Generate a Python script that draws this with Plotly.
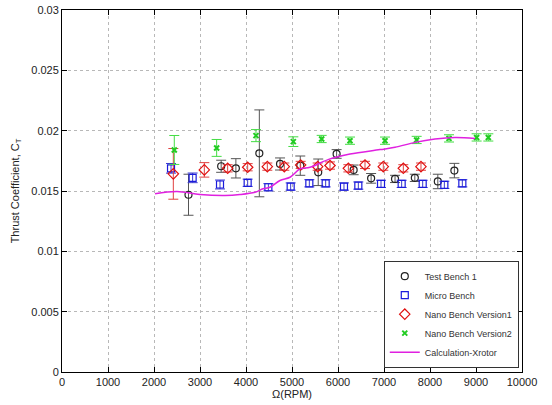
import plotly.graph_objects as go

# Test Bench 1
tb1_rpm = [2750, 3460, 3780, 4290, 4740, 5180, 5570, 5970, 6340, 6720, 7240, 7670, 8170, 8530]
tb1_ct = [0.01469, 0.01705, 0.01688, 0.01812, 0.01724, 0.01710, 0.01655, 0.01807, 0.01675, 0.01605, 0.01600, 0.01609, 0.01579, 0.01669]
tb1_err = [0.0017, 0.0005, 0.0008, 0.0036, 0.0005, 0.0008, 0.0011, 0.00036, 0.0004, 0.0004, 0.0003, 0.0003, 0.0006, 0.0006]

# Micro Bench
mb_rpm = [2370, 2840, 3435, 4036, 4486, 4971, 5377, 5732, 6130, 6442, 6935, 7384, 7841, 8312, 8703]
mb_ct = [0.01688, 0.01609, 0.01554, 0.01568, 0.01531, 0.01537, 0.01564, 0.01564, 0.01537, 0.01545, 0.01559, 0.01559, 0.01559, 0.01551, 0.01564]
mb_err = [0.0004, 0.0004, 0.00037, 0.0003, 0.0003, 0.0003, 0.0003, 0.0003, 0.0003, 0.0003, 0.0003, 0.0003, 0.0003, 0.0003, 0.0003]

# Nano Bench Version1
nb1_rpm = [2420, 3094, 3601, 4036, 4464, 4833, 5188, 5558, 5826, 6225, 6587, 6985, 7420, 7804]
nb1_ct = [0.01642, 0.01675, 0.01688, 0.01697, 0.01702, 0.01702, 0.01716, 0.01702, 0.01711, 0.01688, 0.01716, 0.01702, 0.01688, 0.01702]
nb1_err = [0.0021, 0.0006, 0.0003, 0.0003, 0.0003, 0.0003, 0.0003, 0.0003, 0.0003, 0.0003, 0.0003, 0.0003, 0.0003, 0.0003]

# Nano Bench Version2
nb2_rpm = [2441, 3362, 4217, 5029, 5645, 6261, 7022, 7710, 8413, 9014, 9268]
nb2_ct = [0.01840, 0.01857, 0.01959, 0.01909, 0.01931, 0.01917, 0.01917, 0.01923, 0.01936, 0.01944, 0.01944]
nb2_err = [0.0012, 0.0007, 0.0005, 0.0004, 0.0003, 0.0003, 0.0003, 0.0003, 0.0003, 0.0003, 0.0003]

# Calculation-Xrotor
xr_rpm = [2022, 2500, 3000, 3543, 3870, 4196, 4370, 4522, 4739, 4957, 5174, 5391, 5826, 6261, 6913, 7239, 7674, 8109, 8543, 8978]
xr_ct = [0.01477, 0.01495, 0.01471, 0.01463, 0.01471, 0.01490, 0.01518, 0.01531, 0.01587, 0.01614, 0.01683, 0.01697, 0.01766, 0.01807, 0.01843, 0.01862, 0.01903, 0.01931, 0.01944, 0.01936]

FONT = "Liberation Sans, Arial, sans-serif"

fig = go.Figure()

def add_pts(x, y, e, name, color, ecolor, symbol, size, width=1):
    fig.add_trace(go.Scatter(
        x=x, y=y, mode="markers", name=name,
        marker=dict(symbol=symbol, size=size, color=color, line=dict(color=color, width=width)),
        error_y=dict(type="data", array=e, visible=True, color=ecolor, thickness=1, width=5),
    ))

add_pts(tb1_rpm, tb1_ct, tb1_err, "Test Bench 1", "#222222", "#555555", "circle-open", 7, 1.2)
add_pts(mb_rpm, mb_ct, mb_err, "Micro Bench", "#1a1adc", "#3a3ad0", "square-open", 7, 1.2)
add_pts(nb1_rpm, nb1_ct, nb1_err, "Nano Bench Version1", "#e01010", "#e04040", "diamond-open", 8, 1.2)
add_pts(nb2_rpm, nb2_ct, nb2_err, "Nano Bench Version2", "#22cc22", "#44dd44", "x-thin-open", 5, 2)

fig.add_trace(go.Scatter(
    x=xr_rpm, y=xr_ct, mode="lines", name="Calculation-Xrotor",
    line=dict(color="#e020e0", width=1.5, shape="spline", smoothing=1.0),
))

axis_common = dict(
    showline=True, linecolor="black", linewidth=1, mirror="allticks",
    ticks="inside", ticklen=5, tickcolor="black",
    showgrid=True, gridcolor="#b8b8b8", griddash="dot", gridwidth=1,
    zeroline=False, automargin=False,
    tickfont=dict(family=FONT, size=11, color="#222222"),
)

fig.update_xaxes(range=[0, 10000], dtick=1000, tickformat="d", **axis_common,
                 title=dict(text="Ω(RPM)", font=dict(family=FONT, size=11, color="#222222"), standoff=0))
fig.update_yaxes(range=[0, 0.03], dtick=0.005, tickformat="~g", **axis_common,
                 title=dict(text="Thrust Coefficient, C<sub>T</sub>", font=dict(family=FONT, size=11, color="#222222"), standoff=9))

fig.update_layout(
    width=552, height=405,
    margin=dict(l=62, r=30, t=10, b=33),
    paper_bgcolor="white", plot_bgcolor="white",
    font=dict(family=FONT, size=11, color="#222222"),
    legend=dict(
        x=0.993, y=0.012, xanchor="right", yanchor="bottom",
        bgcolor="white", bordercolor="#333333", borderwidth=1,
        font=dict(family=FONT, size=9, color="#333333"),
        itemsizing="trace", tracegroupgap=0, itemwidth=30,
    ),
    showlegend=True,
)

# remove the default page margin so the 552x405 figure fills the window exactly
fig.write_html("out.html", config={"displayModeBar": False},
               post_script="document.body.style.margin='0';document.body.style.overflow='hidden';")
